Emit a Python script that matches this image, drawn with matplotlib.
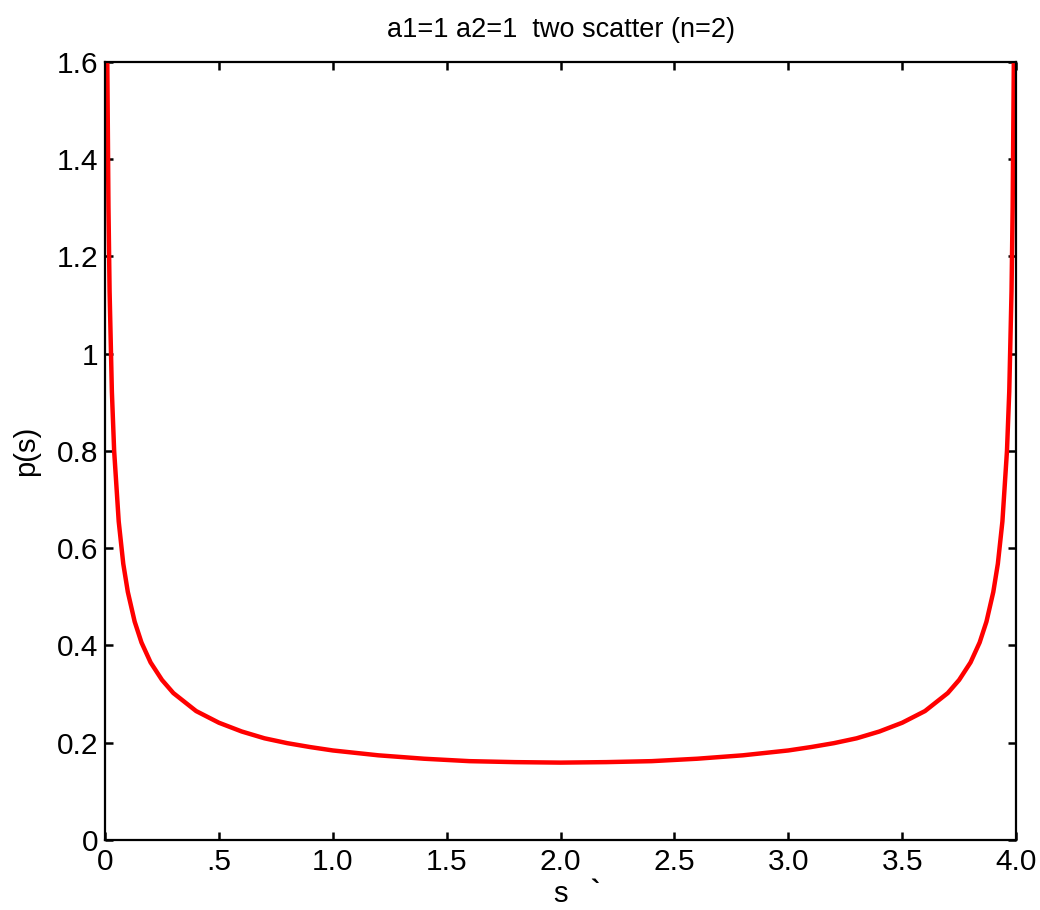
import matplotlib
matplotlib.use("Agg")
import matplotlib.pyplot as plt

plt.rcParams['font.family'] = ['Liberation Sans', 'DejaVu Sans']

# density p(s) of the two-scatter sum, sampled along s
s_vals = [0.0099, 0.015, 0.02, 0.03, 0.04, 0.06, 0.08, 0.10, 0.13, 0.16,
          0.20, 0.25, 0.30, 0.40, 0.50, 0.60, 0.70, 0.80, 0.90, 1.00,
          1.20, 1.40, 1.60, 1.80, 2.00, 2.20, 2.40, 2.60, 2.80, 3.00,
          3.10, 3.20, 3.30, 3.40, 3.50, 3.60, 3.70, 3.75, 3.80, 3.84,
          3.87, 3.90, 3.92, 3.94, 3.96, 3.97, 3.98, 3.985, 3.9901]
p_vals = [1.600, 1.302, 1.128, 0.922, 0.800, 0.655, 0.568, 0.510, 0.449, 0.406,
          0.365, 0.329, 0.302, 0.265, 0.241, 0.223, 0.209, 0.199, 0.191, 0.184,
          0.174, 0.167, 0.162, 0.160, 0.159, 0.160, 0.162, 0.167, 0.174, 0.184,
          0.191, 0.199, 0.209, 0.223, 0.241, 0.265, 0.302, 0.329, 0.365, 0.406,
          0.449, 0.510, 0.568, 0.655, 0.800, 0.922, 1.128, 1.302, 1.600]

x_ticks = [0, 0.5, 1.0, 1.5, 2.0, 2.5, 3.0, 3.5, 4.0]
x_labels = ["0", ".5", "1.0", "1.5", "2.0", "2.5", "3.0", "3.5", "4.0"]
y_ticks = [0, 0.2, 0.4, 0.6, 0.8, 1.0, 1.2, 1.4, 1.6]
y_labels = ["0", "0.2", "0.4", "0.6", "0.8", "1", "1.2", "1.4", "1.6"]

fig = plt.figure(figsize=(10.4, 9.1), dpi=100)
ax = fig.add_axes([0.101, 0.077, 0.876, 0.855])

ax.plot(s_vals, p_vals, color='red', linewidth=3.2, solid_joinstyle='round')

ax.set_xlim(0, 4)
ax.set_ylim(0, 1.6)
ax.set_xticks(x_ticks)
ax.set_xticklabels(x_labels)
ax.set_yticks(y_ticks)
ax.set_yticklabels(y_labels)
ax.tick_params(direction='in', length=6, width=1.8, labelsize=21.5,
               top=True, right=True)
ax.tick_params(axis='x', pad=6)
ax.tick_params(axis='y', pad=5)
for sp in ax.spines.values():
    sp.set_linewidth(1.6)

ax.set_title("a1=1 a2=1  two scatter (n=2)", fontsize=19.5, pad=18)
ax.set_xlabel("s", fontsize=21, labelpad=3)
ax.set_ylabel("p(s)", fontsize=21, labelpad=12)
fig.text(0.567, 0.012, "`", fontsize=20, fontweight='bold')

fig.savefig("out.png", dpi=100)
